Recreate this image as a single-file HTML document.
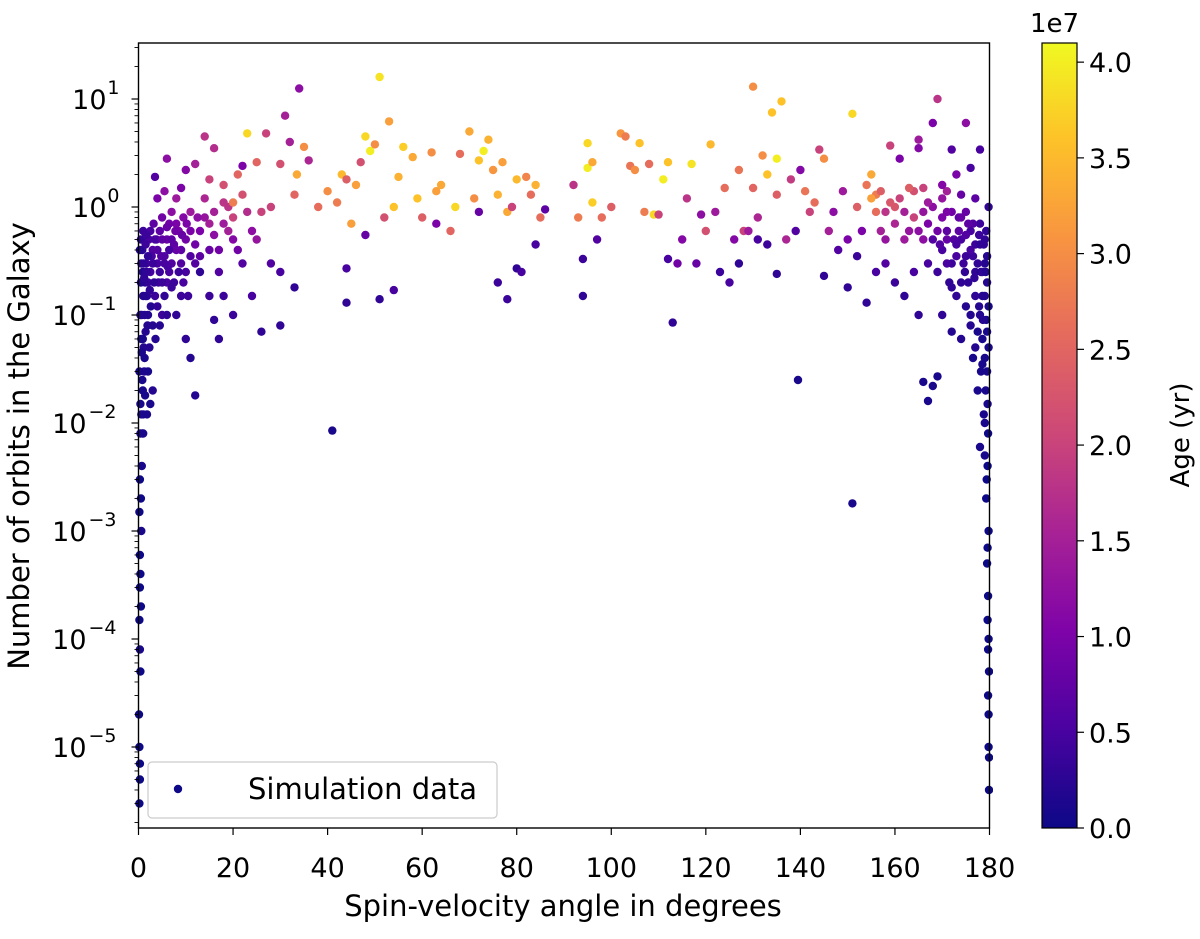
<!DOCTYPE html>
<html><head><meta charset="utf-8"><style>
html,body{margin:0;padding:0;background:#fff;}
svg text{font-family:"DejaVu Sans","Liberation Sans",sans-serif;fill:#000;}
</style></head><body>
<svg id="chart" width="1200" height="934" viewBox="0 0 1200 934" xmlns="http://www.w3.org/2000/svg">
<defs>
<linearGradient id="plasma" x1="0" y1="1" x2="0" y2="0">
<stop offset="0" stop-color="#0d0887"/><stop offset="0.13" stop-color="#4c02a1"/><stop offset="0.25" stop-color="#7e03a8"/><stop offset="0.38" stop-color="#a92395"/><stop offset="0.5" stop-color="#cc4778"/><stop offset="0.63" stop-color="#e56b5d"/><stop offset="0.75" stop-color="#f89441"/><stop offset="0.88" stop-color="#fdc328"/><stop offset="1" stop-color="#f0f921"/>
</linearGradient>
<clipPath id="plotclip"><rect x="134" y="39" width="859" height="793"/></clipPath>
</defs>
<g id="points" clip-path="url(#plotclip)"></g>
<rect x="138.5" y="43" width="851" height="785" fill="none" stroke="#000" stroke-width="1.4"/>
<g id="xaxis"></g>
<g id="yaxis"></g>
<text x="563" y="916" font-size="29" text-anchor="middle">Spin-velocity angle in degrees</text>
<text transform="translate(29,446) rotate(-90)" font-size="29" text-anchor="middle">Number of orbits in the Galaxy</text>
<g>
<rect x="148" y="762" width="349" height="56" rx="4" fill="#fff" fill-opacity="0.85" stroke="#ccc" stroke-width="1.2"/>
<circle cx="178" cy="789" r="4.2" fill="#0d0887"/>
<text x="248" y="799" font-size="29">Simulation data</text>
</g>
<g>
<rect x="1042" y="43" width="35" height="785" fill="url(#plasma)" stroke="#000" stroke-width="1.2"/>
<g id="cbticks"></g>
<text x="1030" y="32" font-size="26">1e7</text>
<text transform="translate(1189,435) rotate(-90)" font-size="26" text-anchor="middle">Age (yr)</text>
</g>
</svg>
<script>
const xTicks=[0,20,40,60,80,100,120,140,160,180];
const yDecades=[-5,-4,-3,-2,-1,0,1];
const cbTicks=[0,0.5,1.0,1.5,2.0,2.5,3.0,3.5,4.0];
// [angle deg, orbits, age (1e7 yr)]
const leftEdge=[[0.2,3e-6,0],[0.3,5e-6,0],[0.2,1e-5,0],[0.4,5e-5,0],[0.3,8e-5,0.1],[0.5,2e-4,0],[0.4,4e-4,0],[0.3,6e-4,0],[0.6,1e-3,0.1],[0.5,2e-3,0],[0.7,4e-3,0.1],[0.8,8e-3,0.1],[1,0.012,0.1],[0.9,0.02,0.1],[1.2,0.03,0.2],[1.1,0.05,0.2],[1.5,0.07,0.2],[1.3,0.1,0.3],[1.8,0.15,0.3],[2,0.2,0.4],[1.6,0.3,0.4],[2.5,0.25,0.5],[3,0.4,0.6],[2.2,0.5,0.5],[1,0.15,0.2],[0.6,0.06,0.1],[0.4,0.015,0.1],[0.6,0.3,0.3],[0.8,0.4,0.3],[3.5,0.15,0.4],[4,0.3,0.5],[4.5,0.6,0.7],[5,0.8,0.9],[6,0.5,0.8],[7,0.3,0.6],[8,0.7,1.0],[9,0.15,0.4],[10,0.06,0.3],[11,0.04,0.2],[12,0.018,0.2],[3,0.02,0.2],[2.5,0.015,0.1],[5,0.1,0.4],[6,0.2,0.5],[7,0.9,1.2],[8,1.2,1.4],[9,0.4,0.7],[10,0.5,0.9],[11,0.9,1.4],[12,0.3,0.6],[13,0.6,1.0],[14,1.2,1.6],[15,0.4,0.8],[16,0.9,1.5],[17,0.25,0.6],[18,0.7,1.4],[19,1.0,1.8],[20,0.5,1.1],[22,1.3,2.2],[24,0.6,1.2],[1.4,0.2,0.3],[2.8,0.35,0.5],[3.8,0.5,0.6],[1.9,0.08,0.2],[0.9,0.25,0.2],[4.2,0.2,0.4],[5.5,0.35,0.6],[6.5,0.7,0.9],[7.5,0.45,0.7]];
const leftDense=[[0.5,0.5,0.3],[1,0.6,0.4],[1.5,0.45,0.4],[2,0.35,0.3],[2.5,0.6,0.5],[3,0.3,0.4],[3.5,0.5,0.5],[4,0.4,0.6],[4.5,0.25,0.4],[5,0.5,0.7],[5.5,0.3,0.5],[6,0.65,0.8],[6.5,0.25,0.5],[7,0.5,0.7],[7.5,0.2,0.4],[8,0.4,0.8],[8.5,0.6,1.0],[9,0.3,0.6],[9.5,0.8,1.1],[10,0.25,0.5],[11,0.6,1.0],[12,0.45,0.9],[13,0.35,0.7],[14,0.8,1.3],[15,0.7,1.5],[16,0.55,1.2],[17,0.4,0.9],[18,1.1,1.8],[19,0.6,1.5],[20,0.8,2.0],[21,0.4,0.9],[23,0.9,1.7],[25,0.5,1.3],[26,0.9,2.0],[0.3,0.4,0.2],[0.5,0.2,0.2],[0.7,0.1,0.2],[0.9,0.06,0.1],[1.1,0.3,0.3],[1.3,0.04,0.1],[1.5,0.15,0.2],[1.7,0.25,0.3],[2,0.1,0.2],[2.3,0.05,0.2],[2.6,0.12,0.2],[3,0.08,0.2],[3.3,0.2,0.3],[3.6,0.06,0.2],[4,0.12,0.3],[4.5,0.08,0.2],[5,0.2,0.4],[5.5,0.15,0.3],[6,0.1,0.3],[6.5,0.4,0.5],[7,0.18,0.4],[8,0.1,0.3],[8.5,0.25,0.4],[9.5,0.2,0.5],[10.5,0.15,0.4],[11,0.35,0.6],[0.2,0.03,0.1],[0.4,0.008,0.1],[0.3,0.003,0],[0.2,1.5e-3,0],[0.3,3e-4,0],[0.2,1.5e-4,0],[0.1,2e-5,0],[0.3,7e-6,0],[0.6,0.012,0.1],[1,0.008,0.1],[0.8,0.025,0.1],[1.4,0.018,0.1],[2,0.03,0.1],[1.8,0.012,0.1],[1.2,0.22,0.3],[2.4,0.17,0.3],[3.2,0.7,0.7],[4.8,0.35,0.6],[6.2,0.28,0.5],[7.8,0.6,0.9],[9.2,0.55,0.8],[10.2,0.7,1.0],[12.5,0.8,1.2],[0.4,0.1,0.2],[0.7,0.045,0.1],[1.6,0.55,0.4]];
const upperBand=[[3.5,1.9,0.6],[4,1.2,1.0],[5.5,1.4,1.2],[6,2.8,1.2],[9,1.5,1.0],[10,2.2,1.1],[12,2.5,1.5],[14,4.5,1.8],[15,1.8,2.0],[16,3.5,1.7],[18,1.6,2.2],[20,1.1,2.8],[21,2.0,2.5],[23,4.8,3.8],[22,2.4,1.0],[25,2.6,2.5],[27,4.8,2.0],[28,1.0,2.0],[30,2.5,2.2],[31,7,1.5],[32,4,1.5],[33,1.3,2.5],[33.5,2,3.3],[34,12.5,1.2],[35,3.6,3.0],[36,2.7,1.6],[38,1,2.6],[40,1.4,3.0],[42,1.1,2.8],[43,2.0,3.5],[44,1.8,2.4],[45,0.7,3.2],[46,1.6,3.2],[47,2.6,2.2],[48,4.5,3.8],[49,3.3,4.0],[50,3.8,3.0],[51,16,3.9],[52,0.8,2.2],[53,6.2,3.2],[54,1.0,3.6],[55,1.9,3.4],[56,3.6,3.7],[58,2.9,3.3],[59,1.2,3.6],[60,0.8,2.4],[62,3.2,3.0],[63,1.4,3.2],[64,1.6,3.3],[66,0.6,2.5],[67,1.0,3.8],[68,3.1,2.6],[70,5,3.3],[71,1.2,3.0],[72,2.7,3.6],[73,3.3,4.0],[74,4.2,3.4],[75,2.2,3.1],[76,1.3,3.4],[77,2.6,3.2],[78,0.9,3.3],[79,1.0,2.0],[80,1.8,3.5],[82,1.9,2.9],[83,1.3,2.6],[84,1.6,3.4],[85,0.8,2.6],[92,1.6,1.8],[93,0.8,2.8],[95,2.3,4.0],[95,3.9,3.8],[96,1.1,3.7],[96,2.6,3.3],[98,0.8,2.6],[100,1.0,2.4],[102,4.8,3.1],[103,4.5,2.8],[104,2.4,2.7],[105,2.2,3.0],[106,3.9,3.6],[107,0.9,2.8],[108,2.5,2.6],[109,0.85,3.8],[110,0.85,2.0],[111,1.8,4.0],[112,2.6,3.6],[116,1.2,1.8],[117,2.5,3.9],[119,0.85,1.2],[120,0.6,2.2],[121,3.8,3.5],[122,0.9,1.4],[124,1.5,2.6],[127,2.2,2.7],[128,0.6,2.0],[129,0.6,1.4],[130,13,3.0],[130,1.5,2.5],[131,0.8,1.6],[132,3,3.0],[133,2,3.6],[134,7.5,3.6],[135,2.8,4.0],[135,1.3,2.4],[136,9.5,3.6],[137,0.5,1.6],[138,1.8,1.9],[140,2.2,1.1],[141,1.4,2.7],[142,0.9,2.0],[143,1.1,2.6],[144,3.4,2.0],[145,2.8,3.0],[146,0.6,1.5],[147,0.9,1.2],[149,1.4,1.4],[150,0.5,1.0],[151,7.3,3.8],[152,1.0,2.4],[153,0.6,1.0],[154,1.6,2.7],[155,1.2,3.2],[155,2,3.3],[156,0.9,2.6],[157,1.4,2.4],[158,0.5,1.3],[159,3.7,2.0],[160,1.0,2.3],[161,2.8,1.0],[162,0.5,1.4],[163,1.5,2.4],[164,0.8,2.0],[165,3.5,1.1],[165,4.2,1.4],[166,0.5,1.2],[167,1.1,1.4],[168,6,1.0],[169,10,1.8],[170,1.6,1.1],[171,0.9,1.0],[172,3.4,0.6],[173,2.0,1.0],[174,1.3,0.8],[175,6,1.2],[176,2.3,0.5],[177,1.2,0.7],[178,3.4,0.5]];
const lowerScatter=[[13,0.25,0.3],[15,0.15,0.4],[16,0.09,0.3],[17,0.06,0.3],[18,0.15,0.4],[20,0.1,0.4],[22,0.3,0.6],[24,0.15,0.5],[26,0.07,0.3],[28,0.3,0.6],[30,0.08,0.3],[30,0.25,0.5],[33,0.18,0.3],[41,0.0085,0.1],[44,0.13,0.3],[44,0.27,0.5],[48,0.55,0.8],[51,0.14,0.3],[54,0.17,0.5],[63,0.7,1.0],[72,0.9,0.8],[76,0.2,0.4],[78,0.14,0.4],[80,0.27,0.3],[84,0.45,0.5],[81,0.25,0.5],[86,0.95,0.7],[94,0.33,0.4],[94,0.15,0.3],[97,0.5,0.6],[112,0.33,0.5],[113,0.085,0.3],[114,0.3,0.9],[115,0.5,1.1],[118,0.3,0.8],[123,0.25,0.4],[125,0.2,0.5],[126,0.5,1.1],[127,0.3,0.3],[131,0.5,0.5],[133,0.45,0.4],[135,0.24,0.3],[139,0.6,0.6],[139.5,0.025,0.1],[145,0.23,0.3],[148,0.4,0.6],[150,0.18,0.3],[151,0.0018,0.1],[152,0.35,0.4],[154,0.13,0.3],[156,0.25,0.5],[158,0.3,0.6],[160,0.2,0.4],[162,0.15,0.3],[164,0.25,0.5],[165,0.1,0.3],[166,0.024,0.1],[167,0.016,0.1],[168,0.022,0.1],[169,0.027,0.1]];
const rightEdge=[[167,0.3,0.5],[168,0.5,0.6],[169,0.25,0.4],[170,0.4,0.5],[170,0.1,0.3],[171,0.6,0.7],[172,0.3,0.4],[172,0.07,0.2],[173,0.15,0.3],[174,0.5,0.5],[174,0.2,0.3],[175,0.35,0.4],[175,0.9,0.8],[176,0.1,0.2],[176,0.6,0.5],[177,0.05,0.2],[177,0.25,0.3],[177.5,0.02,0.1],[178,0.7,0.4],[178,0.006,0.1],[178.5,0.15,0.2],[178.5,0.035,0.1],[179,0.3,0.2],[179,0.01,0.1],[179.3,0.002,0],[179.5,5e-4,0],[179.5,0.07,0.1],[179.6,1.5e-4,0],[179.7,8e-5,0],[179.7,3e-5,0],[179.8,2e-5,0],[179.8,1e-5,0],[179.9,8e-6,0],[179.5,0.2,0.2],[179,0.5,0.3],[179.8,1,0.3],[179.8,0.001,0],[179.6,0.004,0],[178.8,0.45,0.3],[177.8,0.12,0.2],[176.5,0.35,0.4],[173.5,0.8,0.7],[171.5,0.2,0.3],[179.2,0.02,0.1],[178.2,0.25,0.2]];
const rightDense=[[170,0.8,1.0],[171,0.5,0.8],[172,0.9,0.9],[172.5,0.5,0.6],[173,0.35,0.5],[173.5,0.6,0.7],[174,0.8,0.8],[174.5,0.3,0.4],[175,0.55,0.6],[175.5,0.2,0.3],[176,0.4,0.5],[176.5,0.7,0.6],[177,0.15,0.3],[177,0.45,0.4],[177.5,0.3,0.3],[178,0.1,0.2],[178,0.45,0.3],[178.5,0.25,0.3],[178.5,0.06,0.1],[179,0.15,0.2],[179,0.04,0.1],[179.2,0.25,0.2],[179.3,0.09,0.1],[179.5,0.03,0.1],[179.5,0.35,0.2],[179.6,0.015,0.1],[179.7,0.008,0],[179.8,0.05,0.1],[179.8,0.12,0.1],[176,0.08,0.2],[175,0.12,0.2],[174,0.06,0.2],[176.5,0.04,0.1],[177.5,0.07,0.1],[178.2,0.03,0.1],[178.8,0.012,0.1],[179,0.005,0.1],[179.4,0.003,0],[179.6,7e-4,0],[179.7,2.5e-4,0],[179.8,1e-4,0],[179.9,5e-5,0],[179.9,4e-6,0],[165,0.6,1.2],[166,0.9,1.3],[167,0.7,1.0],[168,1.0,1.2],[169,0.6,0.9],[162,0.9,1.5],[163,0.6,1.3],[160,0.7,1.6],[158,0.9,1.8],[157,0.6,1.5],[161,1.2,2.0],[164,1.4,2.2],[159,1.1,2.3],[156,1.3,2.8],[166,1.5,2.0],[170,1.2,1.3],[171,1.4,1.5],[172,0.18,0.3],[173,0.45,0.5],[175.5,0.7,0.7],[176.8,0.22,0.3],[177.8,0.55,0.4],[178.6,0.09,0.2],[174.8,0.25,0.3],[169.5,0.45,0.6],[171,0.3,0.5],[179.3,0.6,0.3]];

const X0=138.5,X1=989.5,YT=43,YB=828;
const Y0PX=207, DEC=108; // pixel of 10^0 and pixels per decade
function xs(d){return X0+(d/180)*(X1-X0);}
function ys(v){return Y0PX-Math.log10(v)*DEC;}
const LMIN=(Y0PX-YB)/DEC, LMAX=(Y0PX-YT)/DEC;
const CMAX=4.1;
function cbY(a){return YB-(a/CMAX)*(YB-YT);}
const stops=[[0,[13,8,135]],[0.13,[76,2,161]],[0.25,[126,3,168]],[0.38,[169,35,149]],[0.5,[204,71,120]],[0.63,[229,107,93]],[0.75,[248,148,65]],[0.88,[253,195,40]],[1,[240,249,33]]];
function plasma(t){t=Math.max(0,Math.min(1,t));for(let i=1;i<stops.length;i++){if(t<=stops[i][0]){const a=stops[i-1],b=stops[i];const f=(t-a[0])/(b[0]-a[0]);const c=a[1].map((v,k)=>Math.round(v+(b[1][k]-v)*f));return `rgb(${c})`;}}return 'rgb(240,249,33)';}
const NS='http://www.w3.org/2000/svg';
function mk(tag,attrs,parent){const e=document.createElementNS(NS,tag);for(const k in attrs)e.setAttribute(k,attrs[k]);parent.appendChild(e);return e;}
const pg=document.getElementById('points');
const all=[].concat(leftEdge,leftDense,rightEdge,rightDense,lowerScatter,upperBand);
all.forEach(p=>{
  const c=mk('circle',{cx:xs(p[0]).toFixed(1),cy:ys(p[1]).toFixed(1),r:4.2,fill:plasma(p[2]/CMAX)},pg);
  
  
});
const xg=document.getElementById('xaxis');
xTicks.forEach(t=>{
  const x=xs(t);
  const l=mk('line',{x1:x,x2:x,y1:YB,y2:YB+7,stroke:'#000','stroke-width':1.2},xg);
  
  
  const tx=mk('text',{x:x,y:YB+49,'font-size':27,'text-anchor':'middle'},xg);
  tx.textContent=t;
  
  
});
const yg=document.getElementById('yaxis');
for(let d=-7;d<=1;d++){for(let m=2;m<=9;m++){const v=m*Math.pow(10,d);const lv=Math.log10(v);if(lv<LMIN||lv>LMAX)continue;const y=ys(v);
  const l=mk('line',{x1:X0-4,x2:X0,y1:y,y2:y,stroke:'#000','stroke-width':0.9},yg);
  
  }}
yDecades.forEach(d=>{
  const y=ys(Math.pow(10,d));
  const l=mk('line',{x1:X0-7,x2:X0,y1:y,y2:y,stroke:'#000','stroke-width':1.2},yg);
  
  
  const tx=mk('text',{x:X0-(d<0?52:32),y:y+10,'font-size':27,'text-anchor':'end'},yg);
  
  
  tx.textContent='10';
  const s=mk('text',{x:X0-(d<0?22:19),y:y-5,'font-size':19,'text-anchor':'end'},yg);
  s.textContent=(d<0?'\u2212'+(-d):String(d));
  
  
});
const cg=document.getElementById('cbticks');
cbTicks.forEach(t=>{
  const y=cbY(t);
  const l=mk('line',{x1:1077,x2:1084,y1:y,y2:y,stroke:'#000','stroke-width':1.2},cg);
  
  
  const tx=mk('text',{x:1089,y:y+10,'font-size':27},cg);
  tx.textContent=t.toFixed(1);
  
  
});
</script>
</body></html>
